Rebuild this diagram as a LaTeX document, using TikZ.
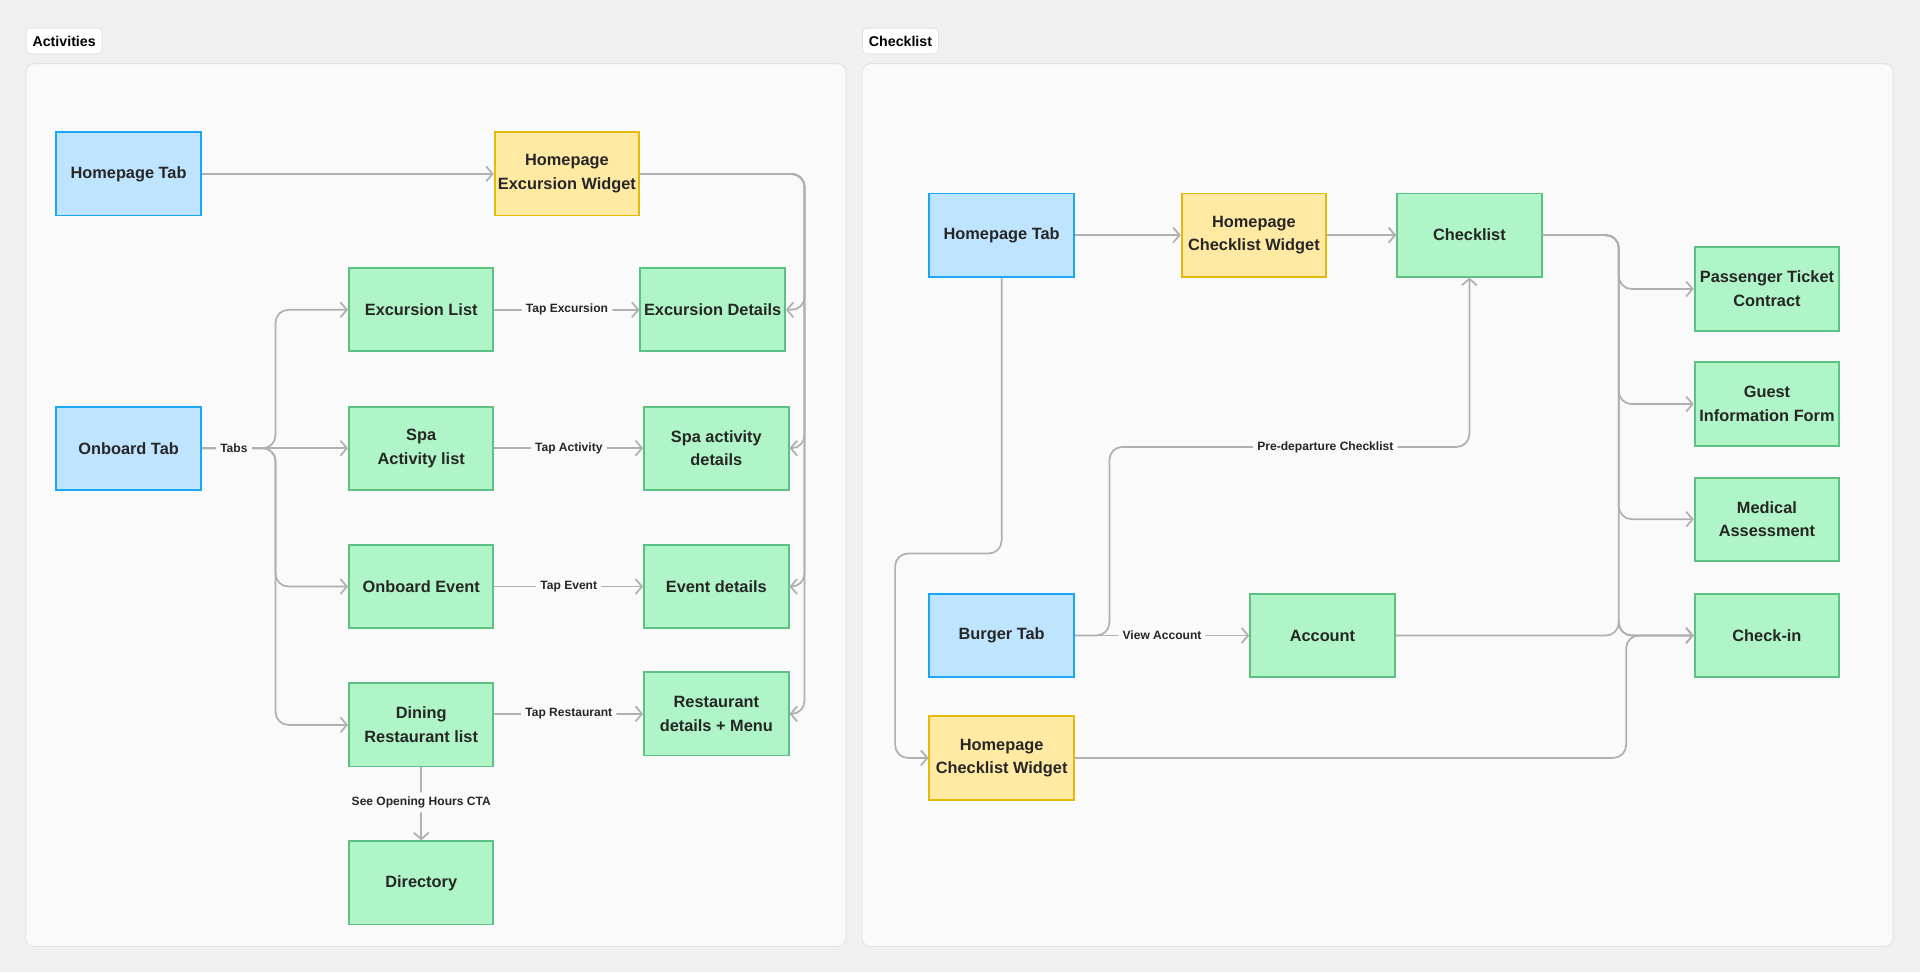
\documentclass[tikz,border=0pt]{standalone}
\usepackage{fontspec}
\setmainfont{Liberation Sans}
\usetikzlibrary{arrows.meta,positioning}
\definecolor{bg}{HTML}{F0F0F0}
\definecolor{panel}{HTML}{FAFAFA}
\definecolor{pline}{HTML}{E2E2E2}
\definecolor{bluef}{HTML}{BFE4FF}
\definecolor{bluel}{HTML}{1AA7F5}
\definecolor{yelf}{HTML}{FFE9A3}
\definecolor{yell}{HTML}{E3B90A}
\definecolor{grnf}{HTML}{B0F5C8}
\definecolor{grnl}{HTML}{5BC283}
\definecolor{edge}{HTML}{B0B0B0}
\tikzset{
  box/.style={draw, line width=0.9pt, minimum width=2.36cm, minimum height=1.36cm,
    align=center, font=\fontsize{7.6}{11}\selectfont\bfseries, text=black!85, inner sep=1pt},
  tab/.style={box, fill=bluef, draw=bluel},
  widget/.style={box, fill=yelf, draw=yell},
  screen/.style={box, fill=grnf, draw=grnl},
  flow/.style={draw=edge, line width=0.8pt, rounded corners=6pt, -{Straight Barb[length=3pt,width=7pt]}},
  lbl/.style={fill=panel, font=\fontsize{5.6}{7}\selectfont\bfseries, text=black!85, inner sep=2pt},
  title/.style={draw=pline, fill=white, rounded corners=2pt, font=\fontsize{6.6}{8}\selectfont\bfseries, inner sep=3pt, minimum height=0.42cm}
}
\begin{document}
\begin{tikzpicture}[x=0.02cm,y=-0.02cm]
	\fill[bg] (0,0) rectangle (1568,794);
	\useasboundingbox (0,0) rectangle (1568,794);
	\filldraw[fill=panel, draw=pline, rounded corners=4pt] (21,52) rectangle (691,773);
	\filldraw[fill=panel, draw=pline, rounded corners=4pt] (704,52) rectangle (1546,773);
	\node [title, anchor=west] (actT) at (21,33.5) {Activities};
	\node [title, anchor=west] (chkT) at (704,33.5) {Checklist};
		% activities
		\node [tab] (hpTab) at (105,142) {Homepage Tab};
		\node [widget] (excW) at (463,142) {Homepage\\Excursion Widget};
		\node [screen] (excList) at (344,253) {Excursion List};
		\node [screen] (excDet) at (582,253) {Excursion Details};
		\node [tab] (obTab) at (105,366) {Onboard Tab};
		\node [screen] (spaList) at (344,366) {Spa\\Activity list};
		\node [screen] (spaDet) at (585,366) {Spa activity\\details};
		\node [screen] (evList) at (344,479) {Onboard Event};
		\node [screen] (evDet) at (585,479) {Event details};
		\node [screen] (dinList) at (344,592) {Dining\\Restaurant list};
		\node [screen] (restDet) at (585,583) {Restaurant\\details + Menu};
		\node [screen] (dirNode) at (344,721) {Directory};
		\draw [flow] (hpTab) -- (excW);
		\coordinate (busA) at (657,142);
		\draw [flow] (excW.east) -- (busA) |- (excDet.east);
		\draw [flow] (excW.east) -- (busA) |- (spaDet.east);
		\draw [flow] (excW.east) -- (busA) |- (evDet.east);
		\draw [flow] (excW.east) -- (busA) |- (restDet.east);
		\coordinate (tabJ) at (225,366);
		\draw [flow] (obTab.east) -- (tabJ) |- (excList.west);
		\draw [flow] (obTab.east) -- (spaList.west);
		\draw [flow] (obTab.east) -- (tabJ) |- (evList.west);
		\draw [flow] (obTab.east) -- (tabJ) |- (dinList.west);
		\node [lbl] (tabsL) at (191,366) {Tabs};
		\draw [flow] (excList) -- node[lbl]{Tap Excursion} (excDet);
		\draw [flow] (spaList) -- node[lbl]{Tap Activity} (spaDet);
		\draw [flow] (evList) -- node[lbl]{Tap Event} (evDet);
		\draw [flow] (dinList.east |- restDet) -- node[lbl]{Tap Restaurant} (restDet);
		\draw [flow] (dinList) -- node[lbl, pos=0.48]{See Opening Hours CTA} (dirNode);
		% checklist
		\node [tab] (hpTab2) at (818,192) {Homepage Tab};
		\node [widget] (chkW) at (1024,192) {Homepage\\Checklist Widget};
		\node [screen] (chkList) at (1200,192) {Checklist};
		\node [screen] (ptc) at (1443,236) {Passenger Ticket\\Contract};
		\node [screen] (gif) at (1443,330) {Guest\\Information Form};
		\node [screen] (medA) at (1443,424) {Medical\\Assessment};
		\node [screen] (chkIn) at (1443,519) {Check-in};
		\node [tab] (burger) at (818,519) {Burger Tab};
		\node [screen] (acct) at (1080,519) {Account};
		\node [widget] (chkW2) at (818,619) {Homepage\\Checklist Widget};
		\draw [flow] (hpTab2) -- (chkW);
		\draw [flow] (chkW) -- (chkList);
		\coordinate (busB) at (1322,192);
		\draw [flow] (chkList.east) -- (busB) |- (ptc.west);
		\draw [flow] (chkList.east) -- (busB) |- (gif.west);
		\draw [flow] (chkList.east) -- (busB) |- (medA.west);
		\draw [flow] (chkList.east) -- (busB) |- (chkIn.west);
		\draw [flow] (acct.east) -- (1322,519) |- (chkIn.west);
		\draw [flow] (chkW2.east) -- (1328,619) |- (chkIn.west);
		\draw [flow] (hpTab2.south) -- (818,452) -- (731,452) |- (chkW2.west);
		\draw [flow] (burger) -- node[lbl]{View Account} (acct);
		\draw [flow] (burger.east) -- (906,519) -- (906,365) -| node[lbl, pos=0.3]{Pre-departure Checklist} (chkList.south);
\end{tikzpicture}
\end{document}
